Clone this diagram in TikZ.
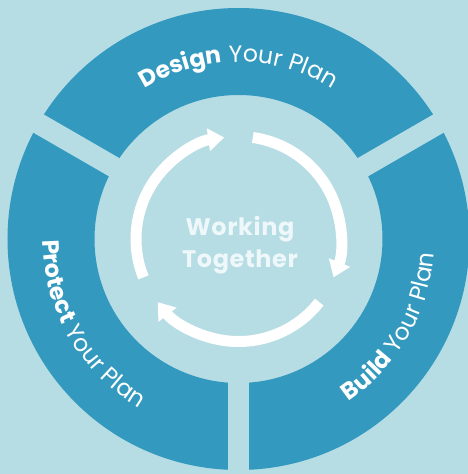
\documentclass[tikz,border=0pt]{standalone}
\usepackage{fontspec}
\setmainfont{Poppins}
\usetikzlibrary{arrows.meta,decorations.text}
\definecolor{nen}{HTML}{B6DCE4}
\definecolor{vanh}{HTML}{3399BF}
\definecolor{chu}{HTML}{EEF7F9}
\begin{document}
\begin{tikzpicture}[x=1pt,y=1pt,>={Triangle[width=22pt,length=16pt]}, line join=round]
	\def\R{231} \def\r{144} % vanh ngoai
	\def\ra{102.5} \def\g{21} % mui ten, khe
	\fontsize{23.5}{28}\selectfont
	\fill[nen] (-238.5,-235) rectangle (229.5,239);
	\useasboundingbox (-238.5,-235) rectangle (229.5,239);
	\fill[vanh,even odd rule] (0,0) circle (\R) (0,0) circle (\r);
	\foreach \t in {30,150,270}{
		\draw[nen,line width=\g pt] (0,0)--(\t:\R+10);%khe
	}
	\foreach \a in {82,-38,-158}{
		\draw[white,line width=11pt,->] (\a:\ra) arc[start angle=\a, end angle=\a-104, radius=\ra];
	}
	\node[font=\fontsize{24}{32}\selectfont\bfseries\addfontfeatures{LetterSpace=2.5}, text=chu, align=center] (WT) at (1.5,-6) {Working\\Together};
	\path[decorate,decoration={text along path,text align=center,text color=white,
		text={|\bfseries|Design|| Your Plan}}] (150:177) arc[start angle=150,end angle=30,radius=177];
	\path[decorate,decoration={text along path,text align=center,text color=white,
		text={|\bfseries|Build|| Your Plan}}] (270:196) arc[start angle=270,end angle=390,radius=196];
	\path[decorate,decoration={text along path,text align=center,text color=white,
		text={|\bfseries|Protect|| Your Plan}}] (150:196) arc[start angle=150,end angle=270,radius=196];
\end{tikzpicture}
\end{document}
